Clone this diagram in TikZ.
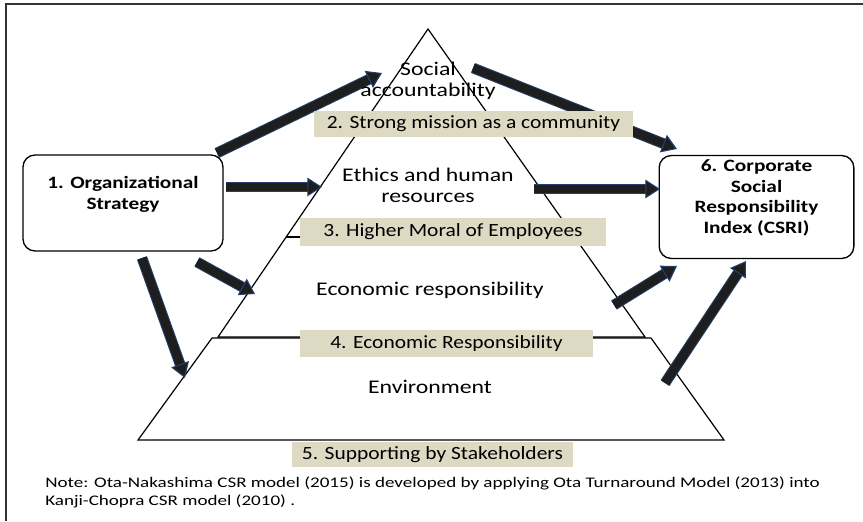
\documentclass[tikz,border=0pt]{standalone}
\usepackage{fontspec}
\setmainfont{Carlito}[FakeStretch=1.15]
\newfontfamily\widefont{Carlito}[FakeStretch=1.23]
\newfontfamily\notefont{Carlito}[FakeStretch=1.3]
\usepackage{tikz}
\usetikzlibrary{arrows.meta}

\definecolor{bandfill}{RGB}{221,217,195}
\definecolor{arrowfill}{RGB}{30,30,30}
\definecolor{arrowedge}{RGB}{36,64,108}

\begin{document}
\begin{tikzpicture}[
  x=0.75pt, y=-0.75pt,
  every node/.style={font=\fontsize{14}{15.75}\selectfont},
  layer/.style={align=center, inner sep=0pt, font=\widefont\fontsize{14.5}{15.75}\selectfont},
  band/.style={fill=bandfill, inner sep=0pt, font=\fontsize{14}{16}\selectfont},
  bigbox/.style={draw=black, line width=1pt, rounded corners=9pt, align=center, font=\widefont\fontsize{13}{15.4}\selectfont\bfseries},
  pyr/.style={draw=black, line width=0.9pt, line join=miter},
  arr/.style={line width=6.5pt, draw=arrowfill,
    -{Triangle[length=11pt,width=14pt,line width=0.8pt,color=arrowedge,fill=arrowfill]},
    preaction={draw=arrowedge, line width=8pt, -, shorten >=10pt}},
  frame/.style={draw=black!80, line width=1.5pt}
]
\useasboundingbox (0,0) rectangle (863,521);
\draw[frame] (6,521) -- (6,4) -- (863,4);

% pyramid: top triangle and base trapezoid
\draw[pyr] (428,29) -- (645,337) -- (218,337) -- cycle;
\draw[pyr] (212,338) -- (651,338) -- (724,440) -- (138,440) -- cycle;
\draw[pyr] (286,237) -- (575,237);

% the two index boxes
\node[bigbox, minimum width=150pt, minimum height=72pt] (org) at (123,203) {1. Organizational\\Strategy\\~};
\node[bigbox, minimum width=146pt, minimum height=75pt] (csri) at (756.5,207) {6. Corporate\\Social\\Responsibility\\Index (CSRI)\\~};

% arrow ends
\coordinate (a1s) at (217,153); \coordinate (a1e) at (382,73);
\coordinate (a2s) at (473,68);  \coordinate (a2e) at (677,149);
\coordinate (a3s) at (226,187); \coordinate (a3e) at (322,187);
\coordinate (a4s) at (534,189); \coordinate (a4e) at (660,189);
\coordinate (a5s) at (197,262); \coordinate (a5e) at (255,294);
\coordinate (a6s) at (142,258); \coordinate (a6e) at (185,378);
\coordinate (a7s) at (614,305); \coordinate (a7e) at (677,266);
\coordinate (a8s) at (665,383); \coordinate (a8e) at (746,261);

\draw[arr] (a1s) -- (a1e);
\draw[arr] (a2s) -- (a2e);
\draw[arr] (a3s) -- (a3e);
\draw[arr] (a4s) -- (a4e);
\draw[arr] (a5s) -- (a5e);
\draw[arr] (a6s) -- (a6e);
\draw[arr] (a7s) -- (a7e);
\draw[arr] (a8s) -- (a8e);

% layer names
\node[layer] (social) at (428,81) {Social\\accountability};
\node[layer] (ethics) at (428,185) {Ethics and human\\resources};
\node[layer] (econ) at (430,290) {Economic responsibility};
\node[layer] (env) at (430,387) {Environment};

% numbered bands
\node[band, minimum width=239pt, minimum height=19.5pt] (b2) at (473.5,124) {2. Strong mission as a community};
\node[band, minimum width=229.5pt, minimum height=21pt] (b3) at (453,232) {3. Higher Moral of Employees};
\node[band, minimum width=220pt, minimum height=20pt] (b4) at (446.5,343.5) {4. Economic Responsibility};
\node[band, minimum width=211pt, minimum height=19pt] (b5) at (432.5,454.5) {5. Supporting by Stakeholders};

\node[anchor=north west, align=left, inner sep=0pt, font=\notefont\fontsize{11}{13.5}\selectfont] (note) at (45,476)
  {Note: Ota-Nakashima CSR model (2015) is developed by applying Ota Turnaround Model (2013) into\\Kanji-Chopra CSR model (2010) .};
\end{tikzpicture}
\end{document}
